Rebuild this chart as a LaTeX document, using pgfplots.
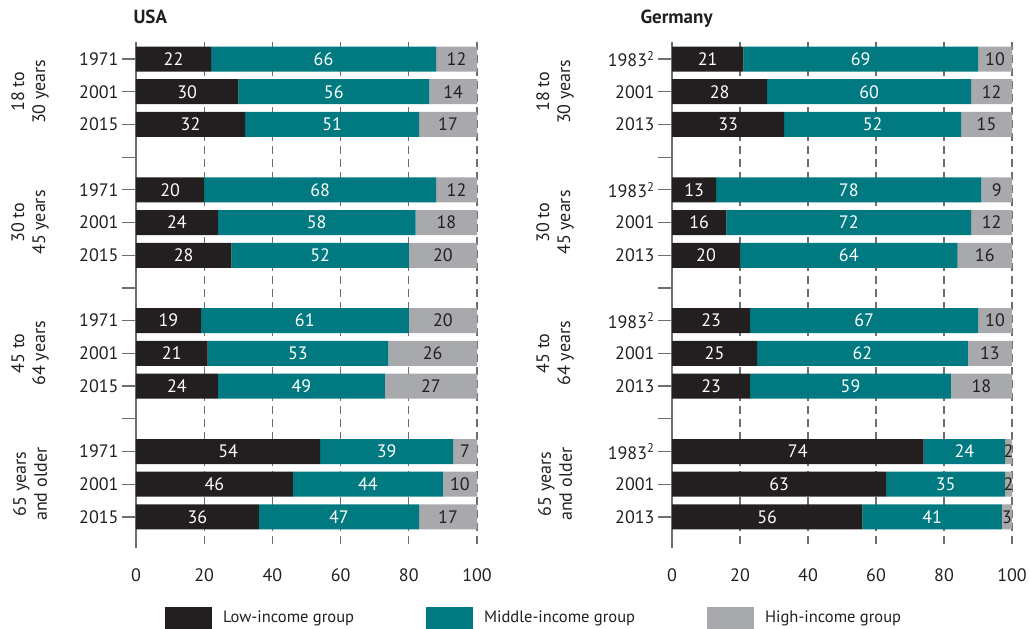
\documentclass[border=0pt]{standalone}
\usepackage{pgfplots}
\pgfplotsset{compat=1.18}
\usepackage{pgfplotstable}
\usepackage{fontspec}
\setmainfont{PT Sans}

\definecolor{lowc}{HTML}{231F20}
\definecolor{midc}{HTML}{007A80}
\definecolor{highc}{HTML}{A7A9AC}
\definecolor{txt}{HTML}{231F20}
\definecolor{axc}{HTML}{6D6E71}

% y = slot from the top; 3, 7 and 11 are the gaps between age groups
\pgfplotstableread{
y  low mid high
0  22  66  12
1  30  56  14
2  32  51  17
4  20  68  12
5  24  58  18
6  28  52  20
8  19  61  20
9  21  53  26
10 24  49  27
12 54  39  7
13 46  44  10
14 36  47  17
}\usadata

\pgfplotstableread{
y  low mid high
0  21  69  10
1  28  60  12
2  33  52  15
4  13  78  9
5  16  72  12
6  20  64  16
8  23  67  10
9  25  62  13
10 23  59  18
12 74  24  2
13 63  35  2
14 56  41  3
}\gerdata

\newcommand\lab{\fontsize{18}{21}\selectfont}

\tikzset{grp/.style={rotate=90, align=center, font=\lab, text=txt}}

\pgfplotsset{
  panel/.style={
    scale only axis, height=506pt,
    xbar stacked, bar width=25pt,
    xmin=0, xmax=100, ymin=-0.52, ymax=14.95, y dir=reverse,
    separate axis lines,
    axis x line*=bottom, x axis line style={draw=none},
    axis y line*=left, y axis line style={axc, line width=1.2pt},
    xtick={0,20,...,100}, xtick style={draw=none},
    xmajorgrids, grid style={dash pattern=on 8pt off 5pt, axc, line width=1.2pt},
    ytick={0,...,14},
    ytick style={axc, line width=1.2pt},
    major tick length=14pt, tick align=outside,
    ticklabel style={font=\lab, text=txt},
    xticklabel style={yshift=-3pt},
    /pgf/number format/assume math mode=true,
    clip=false,
    legend image code/.code={\fill[##1] (0pt,-11pt) rectangle (47pt,11pt);},
  },
  seg/.style n args={2}{
    fill=#1, draw=none,
    nodes near coords,
    nodes near coords align=center,
    point meta=explicit,
    every node near coord/.style={anchor=center, text=#2, font=\lab},
  },
}

\begin{document}
\begin{tikzpicture}
\useasboundingbox (0,0) rectangle (1029pt,629pt);

\node[anchor=base west, font=\bfseries\fontsize{19}{21}\selectfont, text=txt] at (130pt,605pt) {USA};
\node[anchor=base west, font=\bfseries\fontsize{19}{21}\selectfont, text=txt] at (637pt,605pt) {Germany};

\begin{axis}[panel, at={(136pt,81pt)}, anchor=south west, width=341pt,
    yticklabels={1971,2001,2015,,1971,2001,2015,,1971,2001,2015,,1971,2001,2015},
    legend style={draw=none, fill=none, at={(0.076,-0.138)}, anchor=west,
      legend columns=3, font=\fontsize{16.5}{20}\selectfont, text=txt,
      /tikz/every odd column/.append style={column sep=9pt},
      /tikz/every even column/.append style={column sep=70pt}},
  ]
  \addplot[seg={lowc}{white}] table[x=low, y=y, meta=low] {\usadata};
  \addplot[seg={midc}{white}] table[x=mid, y=y, meta=mid] {\usadata};
  \addplot[seg={highc}{txt}] table[x=high, y=y, meta=high] {\usadata};
  \legend{Low-income group, Middle-income group, High-income group}

  \node[grp] at ([xshift=-106pt]axis cs:0,1) {18 to\\30 years};
  \node[grp] at ([xshift=-106pt]axis cs:0,5) {30 to\\45 years};
  \node[grp] at ([xshift=-106pt]axis cs:0,9) {45 to\\64 years};
  \node[grp] at ([xshift=-106pt]axis cs:0,13) {65 years\\and older};
\end{axis}

\begin{axis}[panel, at={(672pt,81pt)}, anchor=south west, width=340pt,
    yticklabels={1983\textsuperscript{2},2001,2013,,1983\textsuperscript{2},2001,2013,,1983\textsuperscript{2},2001,2013,,1983\textsuperscript{2},2001,2013},
  ]
  \addplot[seg={lowc}{white}] table[x=low, y=y, meta=low] {\gerdata};
  \addplot[seg={midc}{white}] table[x=mid, y=y, meta=mid] {\gerdata};
  \addplot[seg={highc}{txt}] table[x=high, y=y, meta=high] {\gerdata};

  \node[grp] at ([xshift=-117pt]axis cs:0,1) {18 to\\30 years};
  \node[grp] at ([xshift=-117pt]axis cs:0,5) {30 to\\45 years};
  \node[grp] at ([xshift=-117pt]axis cs:0,9) {45 to\\64 years};
  \node[grp] at ([xshift=-117pt]axis cs:0,13) {65 years\\and older};
\end{axis}
\end{tikzpicture}
\end{document}
